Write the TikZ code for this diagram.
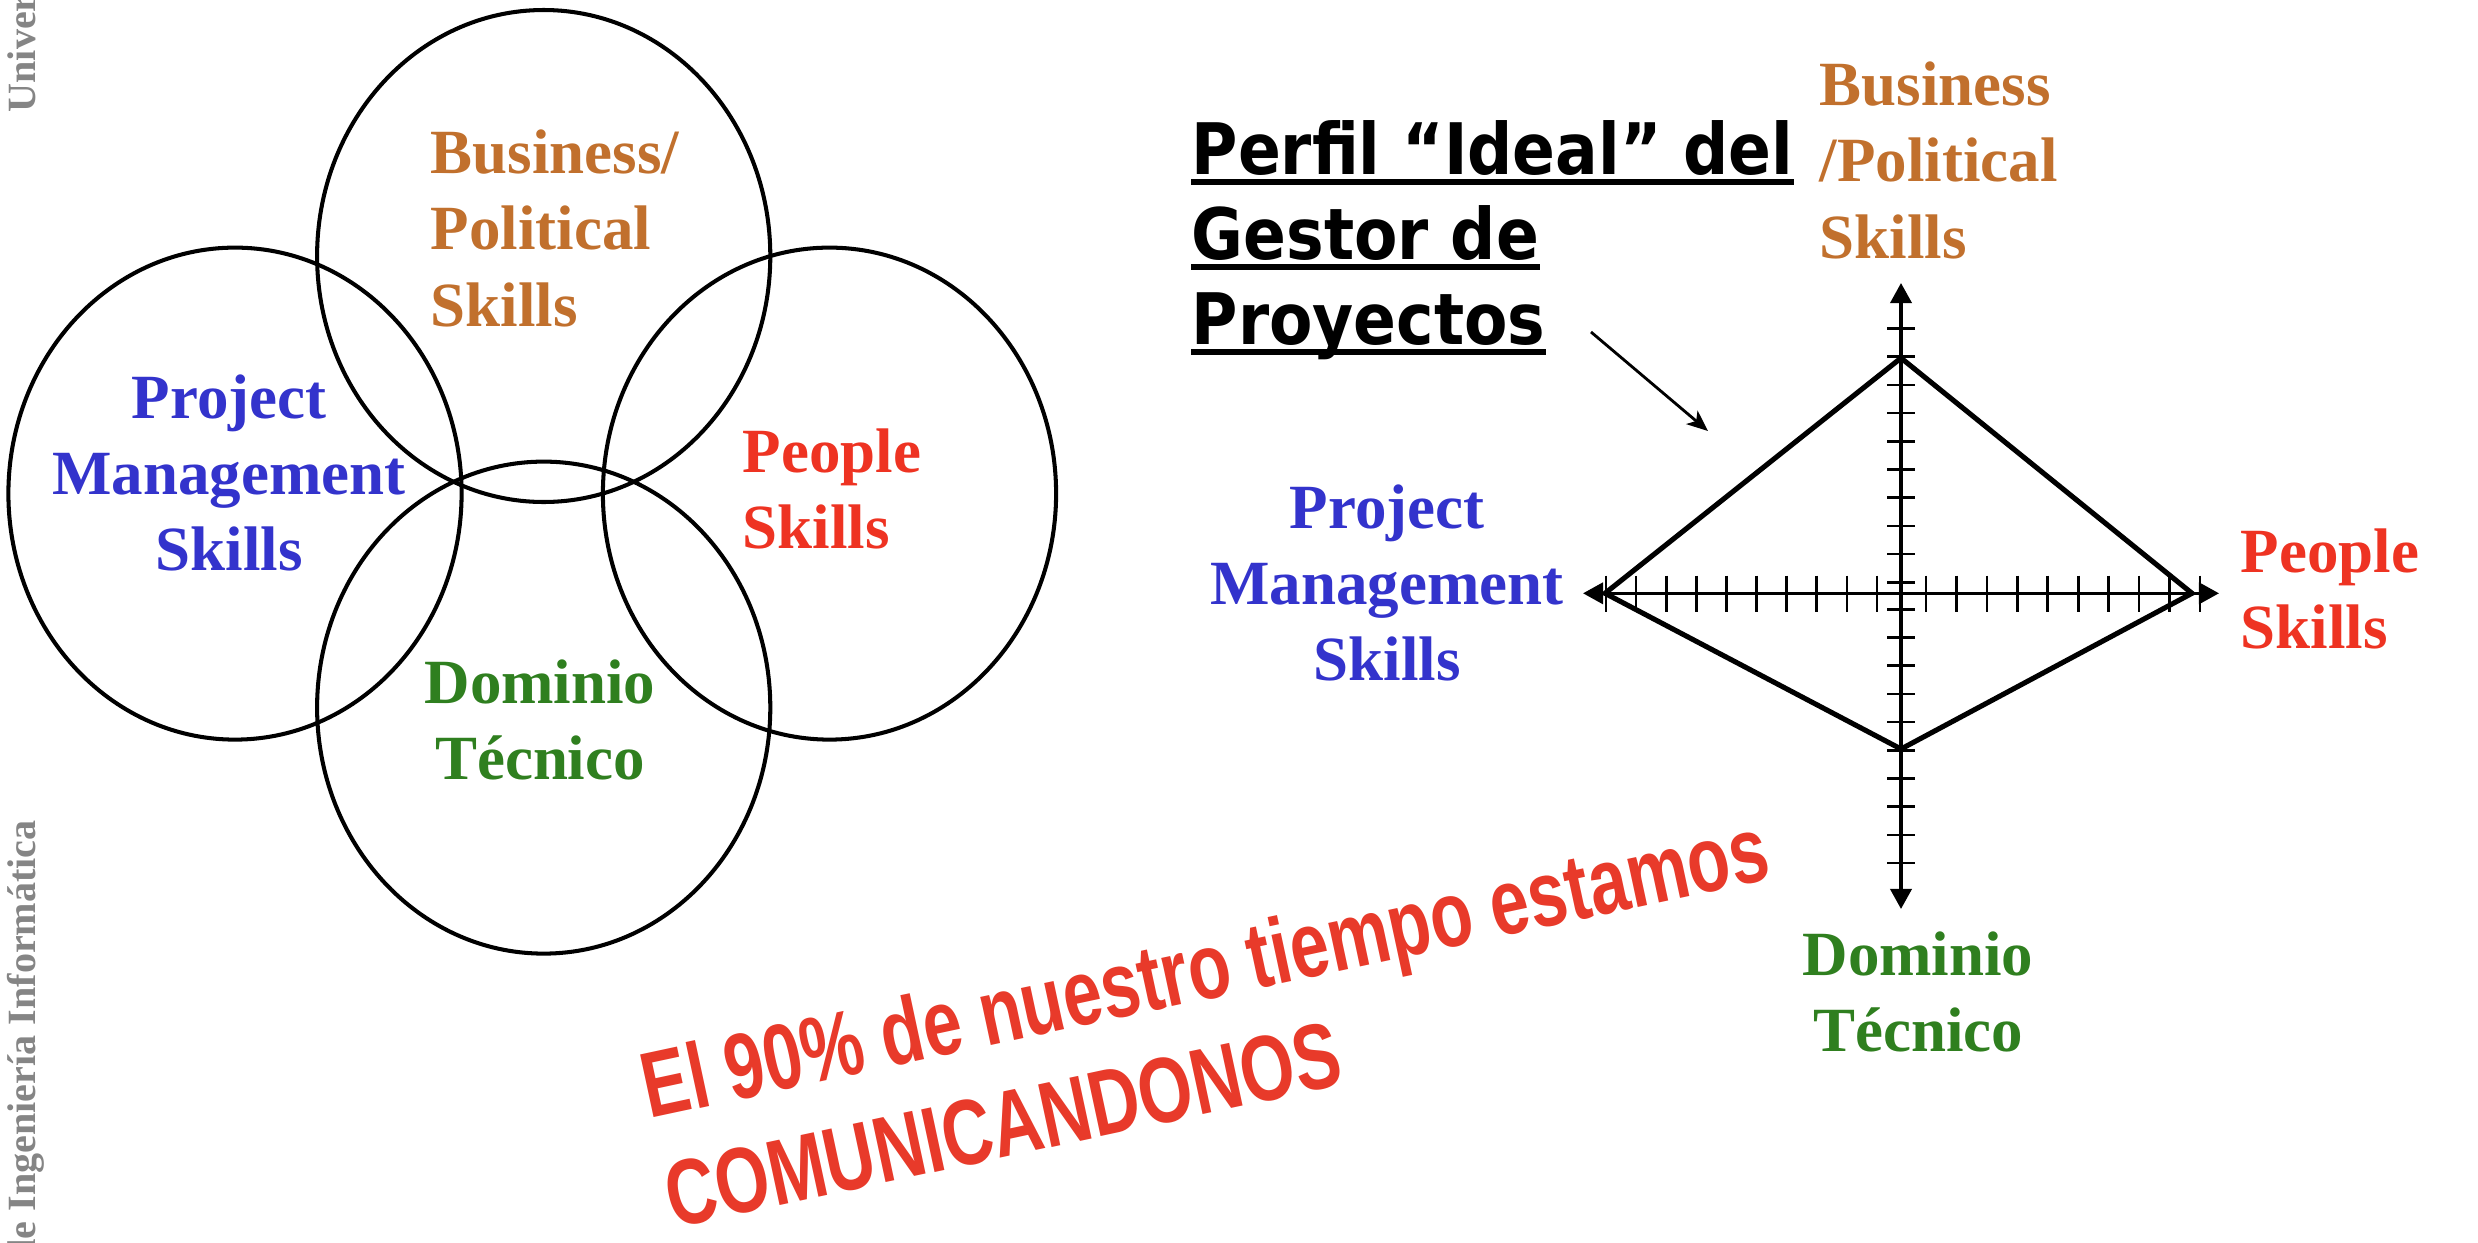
\documentclass[tikz,border=0pt]{standalone}
\usepackage{fontspec}
\setmainfont{Liberation Serif}
\newfontfamily\arialfont{Liberation Sans}
\newfontfamily\titlefont[FakeStretch=0.89]{DejaVu Sans}
\usetikzlibrary{arrows.meta}
\definecolor{bizbrown}{HTML}{C1702D}
\definecolor{pmblue}{HTML}{3333CC}
\definecolor{pplred}{HTML}{EE3322}
\definecolor{domgreen}{HTML}{2F7F1F}
\definecolor{msgred}{HTML}{E83A2A}
\definecolor{sidegrey}{HTML}{858585}
\begin{document}
\begin{tikzpicture}[x=0.01cm, y=-0.01cm,
  venn/.style={line width=1.15pt},
  lab/.style={font=\fontsize{17.9}{21.6}\selectfont\bfseries, inner sep=0pt},
  ttl/.style={font=\titlefont\fontsize{20.2}{24}\selectfont\bfseries, inner sep=0pt, anchor=base west},
  uline/.style={line width=1.8pt},
  axisline/.style={line width=1.0pt, {Triangle[length=5.7pt,width=6pt]}-{Triangle[length=5.7pt,width=6pt]}},
  tickmark/.style={line width=0.75pt},
  diam/.style={line width=1.45pt, line join=miter},
  ptr/.style={line width=0.8pt, -{Stealth[length=6pt,width=5pt,inset=1.6pt]}},
  msg/.style={font=\arialfont\fontsize{19.6}{24}\selectfont\bfseries, text=msgred, inner sep=0pt, anchor=base west, rotate=12.1},
  side/.style={font=\fontsize{11.4}{14}\selectfont\bfseries, text=sidegrey, inner sep=0pt, anchor=base west, rotate=90}]
\useasboundingbox (0,0) rectangle (2478,1242);
\clip (0,0) rectangle (2478,1242);
\fill[white] (0,0) rectangle (2478,1242);

% side text
\node[side] (sideA) at (35,113) {Univer};
\node[side] (sideB) at (35,1262) {de Ingeniería Informática};

% Venn circles
\draw[venn] (543.7,256) ellipse [x radius=226.6, y radius=246];
\draw[venn] (235,493.6) ellipse [x radius=226.6, y radius=246];
\draw[venn] (829.5,493.6) ellipse [x radius=226.6, y radius=246];
\draw[venn] (543.7,707.6) ellipse [x radius=226.6, y radius=246];

% Venn labels
\node[lab, text=bizbrown, anchor=base west] (lb1) at (430,173) {Business/};
\node[lab, text=bizbrown, anchor=base west] (lb2) at (430,249.5) {Political};
\node[lab, text=bizbrown, anchor=base west] (lb3) at (430,326) {Skills};
\node[lab, text=pmblue, anchor=base] (lp1) at (229,418) {Project};
\node[lab, text=pmblue, anchor=base] (lp2) at (229,494) {Management};
\node[lab, text=pmblue, anchor=base] (lp3) at (229,570) {Skills};
\node[lab, text=pplred, anchor=base west] (lr1) at (742,472) {People};
\node[lab, text=pplred, anchor=base west] (lr2) at (742,548.5) {Skills};
\node[lab, text=domgreen, anchor=base] (lg1) at (540,703) {Dominio};
\node[lab, text=domgreen, anchor=base] (lg2) at (540,779) {Técnico};

% Title
\node[ttl] (t1) at (1191,174) {Perfil “Ideal” del};
\node[ttl] (t2) at (1191,259.3) {Gestor de};
\node[ttl] (t3) at (1191,344.3) {Proyectos};
\foreach \t in {t1,t2,t3}{
  \draw[uline] ([yshift=-2.2pt]\t.base west) -- ([yshift=-2.2pt]\t.base east);
}

% axes
\coordinate (hl) at (1583,593.3);
\coordinate (hr) at (2219,593.3);
\coordinate (vt) at (1901,283);
\coordinate (vb) at (1901,909);
\foreach \i in {0,...,9}{
  \draw[tickmark] ({1606+30.1*\i},575.5) -- ({1606+30.1*\i},611.5);
  \draw[tickmark] ({1926+30.44*\i},575.5) -- ({1926+30.44*\i},611.5);
  \draw[tickmark] (1887,{582.3-28.2*\i}) -- (1915,{582.3-28.2*\i});
  \draw[tickmark] (1887,{609.3+28.2*\i}) -- (1915,{609.3+28.2*\i});
}
\draw[axisline] (hl) -- (hr);
\draw[axisline] (vb) -- (vt);

% diamond
\coordinate (dt) at (1901,358);
\coordinate (dl) at (1605,593.3);
\coordinate (dr) at (2192,593.3);
\coordinate (db) at (1901,749);
\draw[diam] (dt) -- (dr) -- (db) -- (dl) -- cycle;

% pointer
\coordinate (ps) at (1591,332);
\coordinate (pe) at (1708,431);
\draw[ptr] (ps) -- (pe);

% axis labels
\node[lab, text=bizbrown, anchor=base west] (rb1) at (1819,105) {Business};
\node[lab, text=bizbrown, anchor=base west] (rb2) at (1819,181) {/Political};
\node[lab, text=bizbrown, anchor=base west] (rb3) at (1819,258) {Skills};
\node[lab, text=pmblue, anchor=base] (rp1) at (1387,528) {Project};
\node[lab, text=pmblue, anchor=base] (rp2) at (1387,604) {Management};
\node[lab, text=pmblue, anchor=base] (rp3) at (1387,680) {Skills};
\node[lab, text=pplred, anchor=base west] (rr1) at (2240,572) {People};
\node[lab, text=pplred, anchor=base west] (rr2) at (2240,648) {Skills};
\node[lab, text=domgreen, anchor=base] (rg1) at (1918,975) {Dominio};
\node[lab, text=domgreen, anchor=base] (rg2) at (1918,1051) {Técnico};

% slanted message
\node[msg] (m1) at (649,1119) {\scalebox{1.01}[1.35]{El 90\% de nuestro tiempo estamos}};
\node[msg] (m2) at (672.5,1228.5) {\scalebox{1.01}[1.35]{COMUNICANDONOS}};
\end{tikzpicture}
\end{document}
